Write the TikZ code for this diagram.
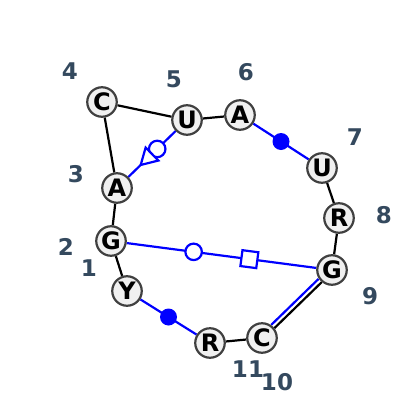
\documentclass[tikz,border=0pt]{standalone}
\usepackage{fontspec}
\setmainfont{DejaVu Sans}
\usetikzlibrary{backgrounds,shapes.geometric}
\definecolor{ntfill}{RGB}{240,240,240}
\definecolor{ntborder}{RGB}{64,64,64}
\definecolor{numcol}{RGB}{52,73,94}
\begin{document}
\begin{tikzpicture}[x=1pt,y=-1pt]
\tikzset{
 nt/.style={circle, draw=ntborder, line width=2.2pt, fill=ntfill, minimum size=29.5pt, inner sep=0pt, font=\fontsize{24}{24}\selectfont\bfseries},
 num/.style={text=numcol, font=\fontsize{23}{23}\selectfont\bfseries, inner sep=0pt},
 bb/.style={line width=2.2pt, draw=black},
 nc/.style={line width=2.2pt, draw=blue},
 fdot/.style={circle, fill=blue, minimum size=17pt, inner sep=0pt},
 odot/.style={circle, draw=blue, fill=white, line width=2.2pt, minimum size=16.5pt, inner sep=0pt},
 osq/.style={rectangle, draw=blue, fill=white, line width=2.2pt, minimum size=16pt, inner sep=0pt, sloped, allow upside down},
 otri/.style={regular polygon, regular polygon sides=3, shape border rotate=-90, draw=blue, fill=white, line width=2.2pt, minimum size=21pt, inner sep=0pt, sloped, allow upside down},
}
\useasboundingbox (0,0) rectangle (400,405);
\node[nt] (n1) at (127,291) {Y};
\node[nt] (n2) at (111,241) {G};
\node[nt] (n3) at (117,188) {A};
\node[nt] (n4) at (102,102) {C};
\node[nt] (n5) at (187,120) {U};
\node[nt] (n6) at (240,115) {A};
\node[nt] (n7) at (322,168) {U};
\node[nt] (n8) at (339,218) {R};
\node[nt] (n9) at (332,270) {G};
\node[nt] (n10) at (262,338) {C};
\node[nt] (n11) at (210,343) {R};
\node[num] (l1) at (89,268) {1};
\node[num] (l2) at (66,247) {2};
\node[num] (l3) at (76,174) {3};
\node[num] (l4) at (70,71) {4};
\node[num] (l5) at (174,79) {5};
\node[num] (l6) at (246,72) {6};
\node[num] (l7) at (355,137) {7};
\node[num] (l8) at (384,215) {8};
\node[num] (l9) at (370,296) {9};
\node[num] (l10) at (277,382) {10};
\node[num] (l11) at (248,369) {11};
\begin{scope}[on background layer]
\draw[bb] (n4) -- (n5);
\draw[bb] (n4) -- (n3);
\draw[bb] (n3) -- (n2);
\draw[bb] (n2) -- (n1);
\draw[bb] (n5) -- (n6);
\draw[bb] (n7) -- (n8);
\draw[bb] (n8) -- (n9);
\draw[bb] (n10) -- (n11);
\draw[nc] (n6) -- (n7);
\draw[nc] (n11) -- (n1);
\draw[nc] (n2) -- (n9);
\draw[nc] (n5) -- (n3);
\draw[nc, transform canvas={shift={(-2.1,-2.1)}}] (n9) -- (n10);
\draw[bb, transform canvas={shift={(1.1,1.1)}}] (n9) -- (n10);
\end{scope}
\path (n6) -- (n7) node[fdot, pos=0.5] (m1) {};
\path (n11) -- (n1) node[fdot, pos=0.5] (m2) {};
\path (n2) -- (n9) node[odot, pos=0.353] (m3) {} node[osq, pos=0.647] (m4) {};
\path (n5) -- (n3) node[odot, pos=0.39] (m5) {} node[otri, pos=0.58] (m6) {};
\end{tikzpicture}
\end{document}
